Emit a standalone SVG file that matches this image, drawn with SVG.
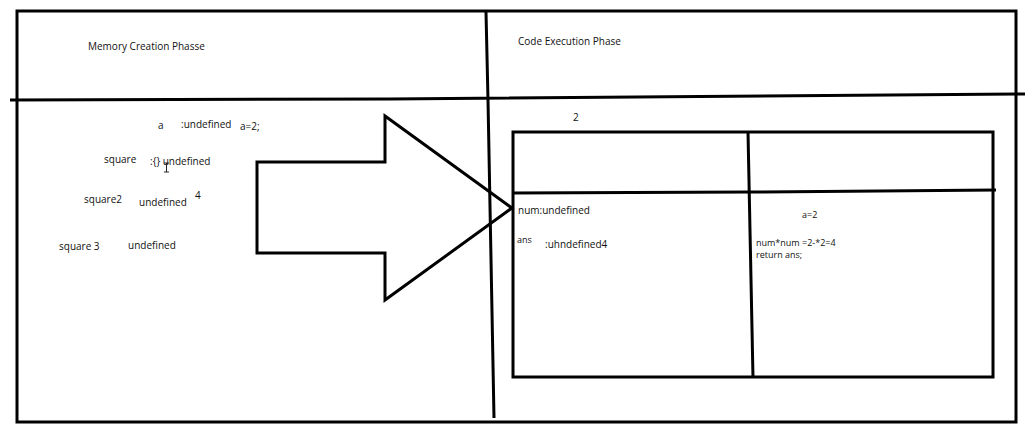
<svg xmlns="http://www.w3.org/2000/svg" width="1028" height="428" viewBox="0 0 1028 428">
<style>
.ln{fill:none;stroke:#000;stroke-width:3;stroke-linecap:butt;stroke-linejoin:miter}
.t{font-family:"Open Sans","Liberation Sans",sans-serif;font-size:10px;fill:#111}
.s{font-size:9px}
</style>
<rect x="0" y="0" width="1028" height="428" fill="#fff"/>
<g id="frame">
<rect class="ln" x="17" y="11" width="999" height="411"/>
<path class="ln" d="M10 100 L390 99 L1025 94"/>
<path class="ln" d="M486 12 L488 100 L494 418"/>
</g>
<g id="memory-phase">
<text class="t" x="88" y="50">Memory Creation Phasse</text>
<text class="t" x="158" y="129">a</text>
<text class="t" x="181" y="128">:undefined</text>
<text class="t" x="240" y="130">a=2;</text>
<text class="t" x="104" y="163">square</text>
<text class="t" x="150" y="165">:{} undefined</text>
<path d="M164 163 H169 M166.5 163 V172 M164 172 H169" stroke="#222" stroke-width="1" fill="none"/>
<text class="t" x="84" y="203">square2</text>
<text class="t" x="139" y="206">undefined</text>
<text class="t" x="195" y="199">4</text>
<text class="t" x="59" y="250">square 3</text>
<text class="t" x="128" y="249">undefined</text>
</g>
<g id="connectors">
<path id="big-arrow" class="ln" d="M257 162 H385 V116 L512 208 L385 300 V253 H257 Z"/>
</g>
<g id="execution-phase">
<text class="t" x="518" y="45">Code Execution Phase</text>
<text class="t" x="573" y="121">2</text>
</g>
<g id="exec-context">
<rect class="ln" x="513" y="132" width="480" height="245"/>
<path class="ln" d="M513 193 L750 192 L996 190"/>
<path class="ln" d="M748 132 L753 378"/>
<text class="t" x="518" y="214">num:undefined</text>
<text class="t s" x="517" y="243">ans</text>
<text class="t" x="545" y="248">:uhndefined4</text>
<text class="t s" x="802" y="218">a=2</text>
<text class="t s" x="756" y="246">num*num =2-*2=4</text>
<text class="t s" x="756" y="258">return ans;</text>
</g>
</svg>
